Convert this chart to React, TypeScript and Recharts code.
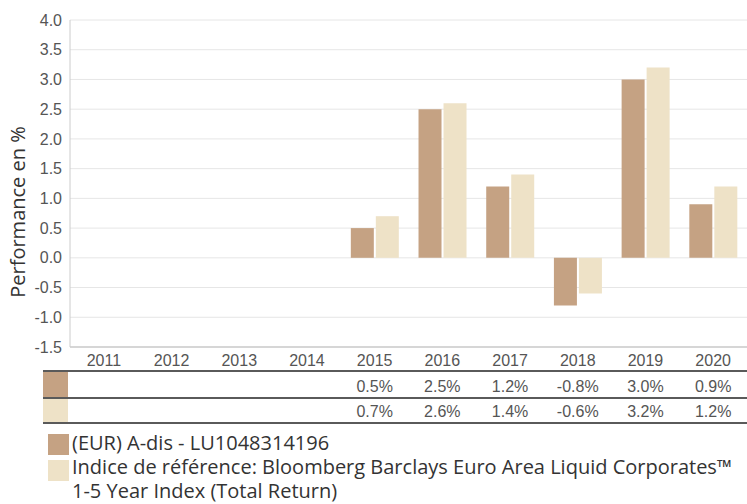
import React from "react";
import { BarChart, Bar, XAxis, YAxis, CartesianGrid } from "recharts";

// yearly performance, in %
const years = ["2011", "2012", "2013", "2014", "2015", "2016", "2017", "2018", "2019", "2020"];
const fundPerf: (number | null)[] = [null, null, null, null, 0.5, 2.5, 1.2, -0.8, 3.0, 0.9];
const indexPerf: (number | null)[] = [null, null, null, null, 0.7, 2.6, 1.4, -0.6, 3.2, 1.2];
const yTicks = [-1.5, -1.0, -0.5, 0, 0.5, 1.0, 1.5, 2.0, 2.5, 3.0, 3.5, 4.0];

const fundLabel = "(EUR) A-dis - LU1048314196";
const indexLabel = ["Indice de référence: Bloomberg Barclays Euro Area Liquid Corporates™", "1-5 Year Index (Total Return)"];

const FUND_COLOR = "#c5a283";
const INDEX_COLOR = "#eee2c7";
const TICK_FONT = "'Liberation Sans', Arial, sans-serif";
const TEXT_FONT = "'Open Sans', 'Noto Sans', sans-serif";

const chartData = years.map((year, i) => ({
  year,
  fund: fundPerf[i],
  index: indexPerf[i],
}));

const fmtPct = (v: number | null) => (v === null ? "" : `${v.toFixed(1)}%`);

// renders one row of the value table underneath the bars
const rowTick = (values: (number | null)[], offset: number) => (props: any) => {
  const { x, y, payload } = props;
  const i = years.indexOf(payload.value);
  return (
    <text
      x={x}
      y={y + offset}
      textAnchor="middle"
      fill="#555"
      fontSize={16}
      fontFamily={TICK_FONT}
    >
      {fmtPct(values[i])}
    </text>
  );
};

const hLine = (top: number) => (
  <div
    style={{
      position: "absolute",
      left: 43,
      top,
      width: 704,
      height: 2,
      background: "#5a5a5a",
    }}
  />
);

export default function App() {
  return (
    <div
      style={{
        position: "absolute",
        left: 0,
        top: 0,
        width: 747,
        height: 504,
        background: "#fff",
        overflow: "hidden",
      }}
    >
      <BarChart
        width={747}
        height={424}
        data={chartData}
        margin={{ top: 20, right: 0, left: 0, bottom: 1 }}
        barCategoryGap="14.8%"
        barGap={2}
      >
        <CartesianGrid xAxisId="a_year" vertical={false} stroke="#e6e6e6" />
        <XAxis
          xAxisId="a_year"
          dataKey="year"
          height={24}
          tickLine={false}
          axisLine={{ stroke: "#cccccc", strokeWidth: 1.5 }}
          tick={{ fill: "#555", fontSize: 16, fontFamily: TICK_FONT }}
        />
        <XAxis
          xAxisId="b_fund"
          dataKey="year"
          height={27}
          tickLine={false}
          axisLine={false}
          tickSize={0}
          tickMargin={0}
          tick={rowTick(fundPerf, 20.5)}
        />
        <XAxis
          xAxisId="c_index"
          dataKey="year"
          height={25}
          tickLine={false}
          axisLine={false}
          tickSize={0}
          tickMargin={0}
          tick={rowTick(indexPerf, 19)}
        />
        <YAxis
          width={70}
          domain={[-1.5, 4]}
          ticks={yTicks}
          interval={0}
          tickLine={false}
          axisLine={{ stroke: "#cccccc" }}
          tickFormatter={(v: number) => v.toFixed(1)}
          tick={{ fill: "#555", fontSize: 16, fontFamily: TICK_FONT }}
          label={() => (
            <text
              x={25}
              y={212}
              transform="rotate(-90 25 212)"
              textAnchor="middle"
              fill="#333"
              fontSize={20}
              fontFamily={TEXT_FONT}
            >
              Performance en %
            </text>
          )}
        />
        <Bar xAxisId="a_year" dataKey="fund" fill={FUND_COLOR} isAnimationActive={false} />
        <Bar xAxisId="a_year" dataKey="index" fill={INDEX_COLOR} isAnimationActive={false} />
      </BarChart>

      {/* table swatches and rules */}
      <div style={{ position: "absolute", left: 43, top: 372, width: 25, height: 26, background: FUND_COLOR }} />
      <div style={{ position: "absolute", left: 43, top: 399, width: 25, height: 24, background: INDEX_COLOR }} />
      {hLine(370)}
      {hLine(397)}
      {hLine(422)}

      {/* legend */}
      <div
        style={{
          position: "absolute",
          left: 48,
          top: 431,
          width: 699,
          fontFamily: TEXT_FONT,
          fontSize: 20,
          lineHeight: "24px",
          color: "#333",
          whiteSpace: "nowrap",
        }}
      >
        <div style={{ display: "flex", alignItems: "flex-start" }}>
          <span style={{ width: 21, height: 21, marginTop: 3, background: FUND_COLOR, flexShrink: 0 }} />
          <span style={{ marginLeft: 3 }}>{fundLabel}</span>
        </div>
        <div style={{ display: "flex", alignItems: "flex-start" }}>
          <span style={{ width: 21, height: 21, marginTop: 5, background: INDEX_COLOR, flexShrink: 0 }} />
          <span style={{ marginLeft: 3 }}>
            {indexLabel[0]}
            <br />
            {indexLabel[1]}
          </span>
        </div>
      </div>
    </div>
  );
}
